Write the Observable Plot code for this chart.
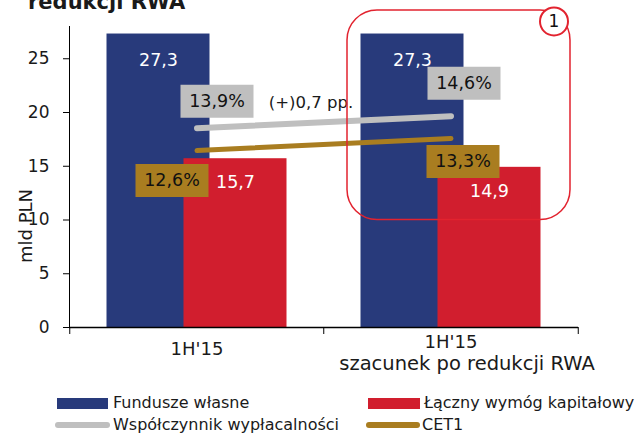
<!DOCTYPE html>
<html><head><meta charset="utf-8">
<script src="https://cdn.jsdelivr.net/npm/d3@7"></script>
<script src="https://cdn.jsdelivr.net/npm/@observablehq/plot@0.6"></script>
<style>
body{margin:0;background:#fff;font-family:"DejaVu Sans",sans-serif;color:#1a1a1a;}
#wrap{position:relative;width:637px;height:433px;overflow:hidden;}
#chart{position:absolute;left:0;top:0;}
#title{position:absolute;left:28px;top:-12px;font-size:21px;font-weight:bold;white-space:nowrap;line-height:28px;}
#ylab{position:absolute;left:25px;top:226px;transform:translate(-50%,-50%) rotate(-90deg);font-size:18px;white-space:nowrap;}
.leg{position:absolute;font-size:16px;white-space:nowrap;line-height:20px;}
.sw{position:absolute;}
</style></head>
<body><div id="wrap"><div id="chart"></div><div id="title">redukcji RWA</div><div id="ylab">mld PLN</div><div id="legend"></div></div>
<script>
// ---- data ----
const categories = ["1H'15", "1H'15 szacunek po redukcji RWA"];
const xLine1 = ["1H'15", "1H'15"];
const xLine2 = ["", "szacunek po redukcji RWA"];
const fundusze = [27.3, 27.3];
const wymog = [15.7, 14.9];
const wspolczynnik = [13.9, 14.6];
const cet1 = [12.6, 13.3];
const yTicks = [0, 5, 10, 15, 20, 25];
const seriesNames = ["Fundusze własne", "Łączny wymóg kapitałowy", "Współczynnik wypłacalności", "CET1"];
const annotation = "(+)0,7 pp.";
const highlightLabel = "1";

// ---- styles ----
const FONT = "DejaVu Sans, sans-serif";
const BLUE = "#283a7b", RED = "#d11e2e", GREY = "#bfbfbf", GOLD = "#a97d20", OUTLINE = "#e2232f";
const fmt = v => v.toFixed(1).replace(".", ",");
const fmtPct = v => fmt(v) + "%";
// hidden secondary axis (percent) expressed in primary units
const pctToMld = p => -3.7 + 1.6 * p;

const rows = categories.map((c, i) => ({cat: c, f: fundusze[i], w: wymog[i], s: wspolczynnik[i], c1: cet1[i], i}));
const box = (w, h) => ({draw(ctx) { ctx.rect(-w / 2, -h / 2, w, h); }});

function pctLabel(i, key, fill, dx, dy) {
  const d = [rows[i]];
  return [
    Plot.dot(d, {x: "cat", y: r => pctToMld(r[key]), dx, dy, symbol: box(73, 33), fill, stroke: null}),
    Plot.text(d, {x: "cat", y: r => pctToMld(r[key]), dx, dy, text: r => fmtPct(r[key]), fill: "#111", fontSize: 17.5})
  ];
}

const plot = Plot.plot({
  width: 637, height: 388,
  marginLeft: 69, marginRight: 59, marginTop: 26, marginBottom: 61,
  style: {fontFamily: FONT, fontSize: "17px", color: "#1a1a1a", background: "#fff", overflow: "visible"},
  x: {domain: categories, paddingInner: 0.595, paddingOuter: 0.2976, axis: null},
  y: {domain: [0, 28], axis: null},
  marks: [
    Plot.frame({anchor: "left", stroke: "#000"}),
    Plot.axisY({ticks: yTicks, tickSize: 6, tickPadding: 14, fontSize: 17, label: null, stroke: "#000"}),
    Plot.barY(rows, {x: "cat", y: "f", dx: -38.5, fill: BLUE}),
    Plot.barY(rows, {x: "cat", y: "w", dx: 38.5, fill: RED}),
    Plot.text(rows, {x: "cat", y: "f", dx: -38.5, dy: 26, text: r => fmt(r.f), fill: "#fff", fontSize: 17.5}),
    Plot.text(rows, {x: "cat", y: "w", dx: 38.5, dy: 24, text: r => fmt(r.w), fill: "#fff", fontSize: 17.5}),
    Plot.line(rows, {x: "cat", y: r => pctToMld(r.s), stroke: GREY, strokeWidth: 6, strokeLinecap: "round"}),
    Plot.line(rows, {x: "cat", y: r => pctToMld(r.c1), stroke: GOLD, strokeWidth: 5, strokeLinecap: "round"}),
    ...pctLabel(0, "s", GREY, 20, -27),
    ...pctLabel(1, "s", GREY, 13, -33),
    ...pctLabel(0, "c1", GOLD, -25, 30),
    ...pctLabel(1, "c1", GOLD, 12, 23),
    Plot.text([rows[0]], {x: "cat", y: r => pctToMld(r.s), dx: 114, dy: -25, text: () => annotation, fontSize: 16.5, fill: "#1a1a1a"}),
    Plot.ruleY([0], {stroke: "#000", strokeWidth: 1.3}),
    Plot.ruleX(categories, {x: d => d, dx: -127.25, insetTop: 301, insetBottom: -7, stroke: "#000"}),
    Plot.ruleX([categories[1]], {x: d => d, dx: 127.25, insetTop: 301, insetBottom: -7, stroke: "#000"}),
    Plot.text([categories[0]], {x: d => d, frameAnchor: "bottom", dy: 27, text: () => xLine1[0], fontSize: 18}),
    Plot.text([categories[1]], {x: d => d, frameAnchor: "bottom", dy: 20.5, text: () => xLine1[1], fontSize: 18}),
    Plot.text([categories[1]], {x: d => d, frameAnchor: "bottom", dy: 42, dx: 16, text: () => xLine2[1], fontSize: 19.5}),
    Plot.barY([rows[1]], {x: "cat", y1: 10, y2: 29.5, insetLeft: -52, insetRight: -68, rx: 30, fill: "none", stroke: OUTLINE, strokeWidth: 1.5}),
    Plot.dot([rows[1]], {x: "cat", y: 28.47, dx: 103, r: 14, fill: "#fff", stroke: OUTLINE, strokeWidth: 2}),
    Plot.text([rows[1]], {x: "cat", y: 28.47, dx: 103, text: () => highlightLabel, fontSize: 17, fill: "#111"})
  ]
});
document.getElementById("chart").appendChild(plot);

// ---- legend ----
const legend = document.getElementById("legend");
const legItems = [
  {name: seriesNames[0], color: BLUE, kind: "rect", sx: 57, sw: 51, tx: 113, cy: 403},
  {name: seriesNames[1], color: RED, kind: "rect", sx: 368, sw: 52, tx: 424, cy: 403},
  {name: seriesNames[2], color: GREY, kind: "line", sx: 55, sw: 55, tx: 113, cy: 425},
  {name: seriesNames[3], color: GOLD, kind: "line", sx: 366, sw: 54, tx: 422, cy: 425}
];
for (const it of legItems) {
  const s = document.createElement("div");
  s.className = "sw";
  const h = it.kind === "rect" ? 11 : 6;
  Object.assign(s.style, {left: it.sx + "px", top: (it.cy - h / 2) + "px", width: it.sw + "px", height: h + "px", background: it.color, borderRadius: it.kind === "line" ? "3px" : "0"});
  legend.appendChild(s);
  const t = document.createElement("div");
  t.className = "leg";
  t.textContent = it.name;
  Object.assign(t.style, {left: it.tx + "px", top: (it.cy - 10) + "px"});
  legend.appendChild(t);
}
</script>
</body></html>
